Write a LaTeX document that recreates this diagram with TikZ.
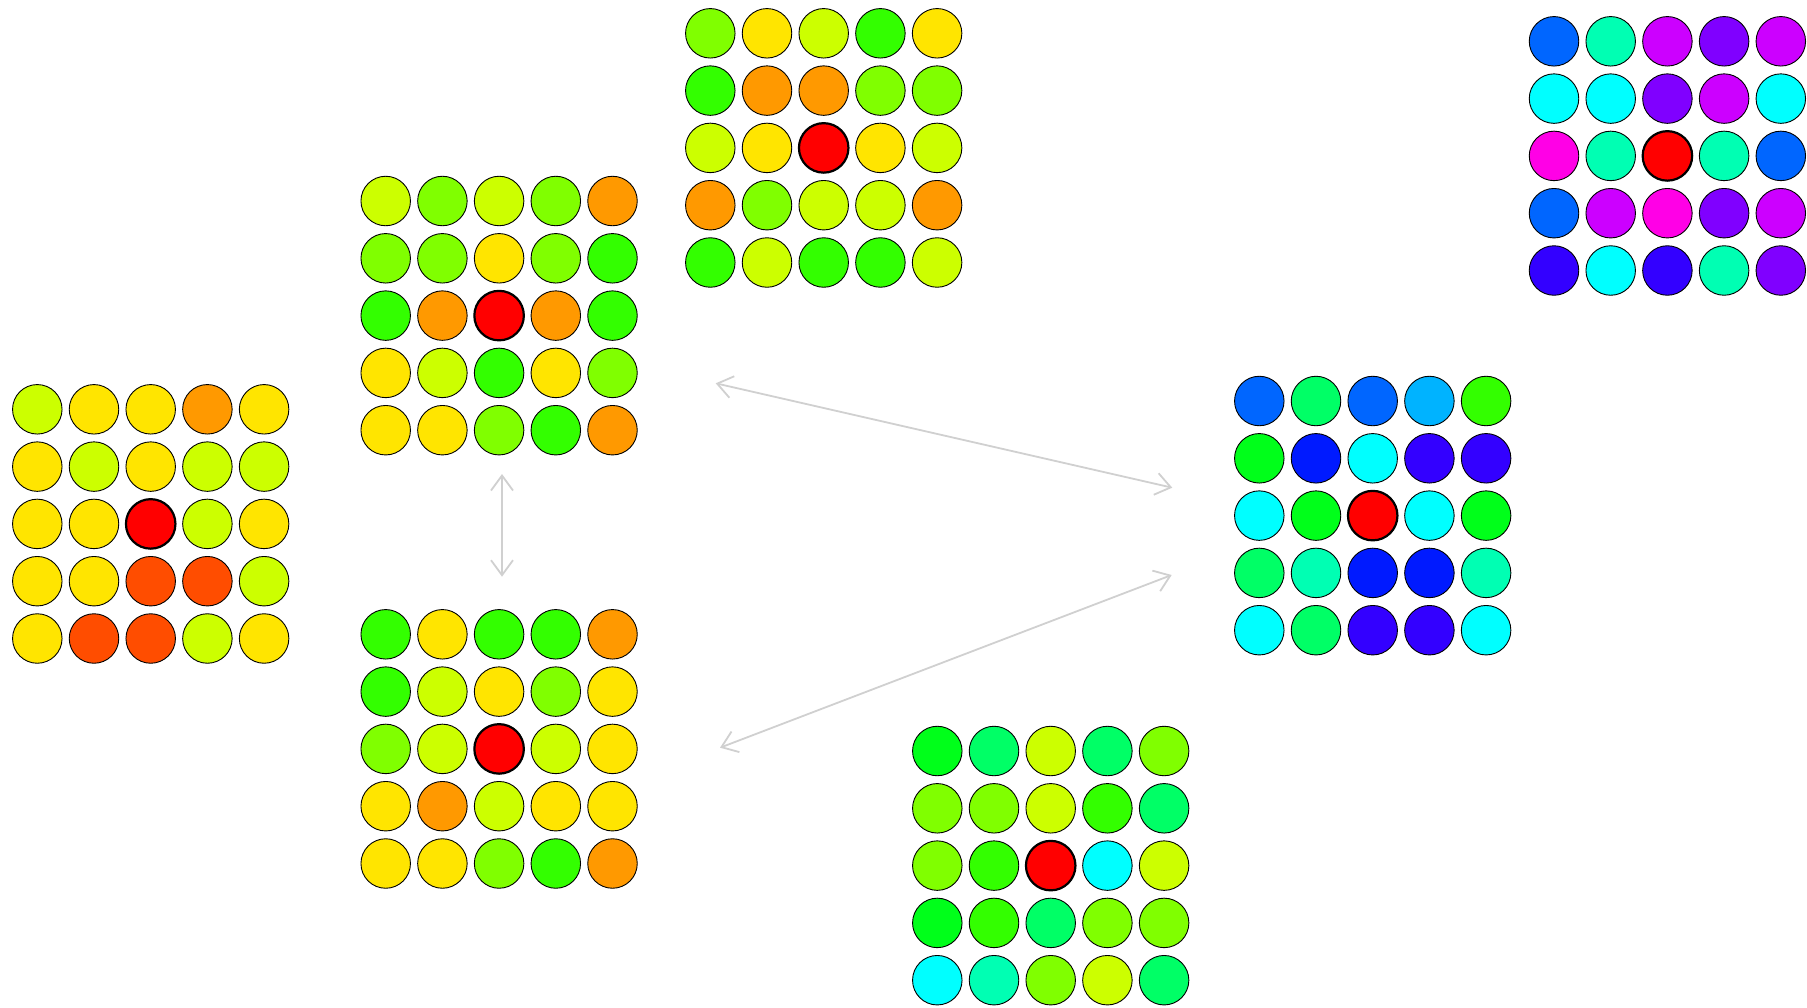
\documentclass[tikz,border=0pt]{standalone}
\usepackage{xcolor}
\usepackage{tikz}
\usetikzlibrary{arrows.meta}
% rainbow(20) hues
\definecolor{hR}{HTML}{FF0000}
\definecolor{hOR}{HTML}{FF4D00}
\definecolor{hO}{HTML}{FF9900}
\definecolor{hY}{HTML}{FFE500}
\definecolor{hYG}{HTML}{CCFF00}
\definecolor{hLG}{HTML}{80FF00}
\definecolor{hG}{HTML}{33FF00}
\definecolor{hGG}{HTML}{00FF1A}
\definecolor{hSG}{HTML}{00FF66}
\definecolor{hAQ}{HTML}{00FFB3}
\definecolor{hCY}{HTML}{00FFFF}
\definecolor{hSB}{HTML}{00B3FF}
\definecolor{hBL}{HTML}{0066FF}
\definecolor{hDB}{HTML}{001AFF}
\definecolor{hIN}{HTML}{3300FF}
\definecolor{hVI}{HTML}{8000FF}
\definecolor{hPU}{HTML}{CC00FF}
\definecolor{hMA}{HTML}{FF00E6}
\definecolor{linkgrey}{RGB}{208,208,208}

\tikzset{
 dot/.style={circle,draw=black,line width=0.9pt,minimum size=49.5pt,inner sep=0pt},
 hub/.style={line width=2.2pt},
 link/.style={linkgrey,line width=1.8pt,{Straight Barb[length=15pt,width=22pt]}-{Straight Barb[length=15pt,width=22pt]}},
}
% 5x5 grid: name, x and y of first centre, rows of colours
\newcommand{\dotgrid}[4]{%
 \foreach \row [count=\r from 0] in {#4} {
  \foreach \c [count=\k from 0] in \row {
   \node[dot,fill=h\c] (#1-\r-\k) at ({#2+56.7*\k},{#3+57.3*\r}) {};
  }}
 \node[dot,hub,fill=hR] (#1-hub) at (#1-2-2) {};
}

\begin{document}
\begin{tikzpicture}[x=1pt,y=-1pt]
 \useasboundingbox (0,0) rectangle (1807,1007);
 % grids
 \dotgrid{left}{37.3}{409.3}{{YG,Y,Y,O,Y},{Y,YG,Y,YG,YG},{Y,Y,R,YG,Y},{Y,Y,OR,OR,YG},{Y,OR,OR,YG,Y}}
 \dotgrid{upper}{385.7}{201}{{YG,LG,YG,LG,O},{LG,LG,Y,LG,G},{G,O,R,O,G},{Y,YG,G,Y,LG},{Y,Y,LG,G,O}}
 \dotgrid{top}{710.3}{33.3}{{LG,Y,YG,G,Y},{G,O,O,LG,LG},{YG,Y,R,Y,YG},{O,LG,YG,YG,O},{G,YG,G,G,YG}}
 \dotgrid{corner}{1554}{41.3}{{BL,AQ,PU,VI,PU},{CY,CY,VI,PU,CY},{MA,AQ,R,AQ,BL},{BL,PU,MA,VI,PU},{IN,CY,IN,AQ,VI}}
 \dotgrid{right}{1259.3}{401}{{BL,SG,BL,SB,G},{GG,DB,CY,IN,IN},{CY,GG,R,CY,GG},{SG,AQ,DB,DB,AQ},{CY,SG,IN,IN,CY}}
 \dotgrid{lower}{385.7}{634.3}{{G,Y,G,G,O},{G,YG,Y,LG,Y},{LG,YG,R,YG,Y},{Y,O,YG,Y,Y},{Y,Y,LG,G,O}}
 \dotgrid{bottom}{937.3}{751}{{GG,SG,YG,SG,LG},{LG,LG,YG,G,SG},{LG,G,R,CY,YG},{GG,G,SG,LG,LG},{CY,AQ,LG,YG,SG}}
 % arrow ends
 \coordinate (up-s) at (502,474);
 \coordinate (low-n) at (502,576.7);
 \coordinate (up-e) at (715.7,383.3);
 \coordinate (right-nw) at (1172.3,487.7);
 \coordinate (low-e) at (720,747.7);
 \coordinate (right-sw) at (1171.7,575);
 % links
 \draw[link] (up-s) -- (low-n);
 \draw[link] (up-e) -- (right-nw);
 \draw[link] (low-e) -- (right-sw);
\end{tikzpicture}
\end{document}
